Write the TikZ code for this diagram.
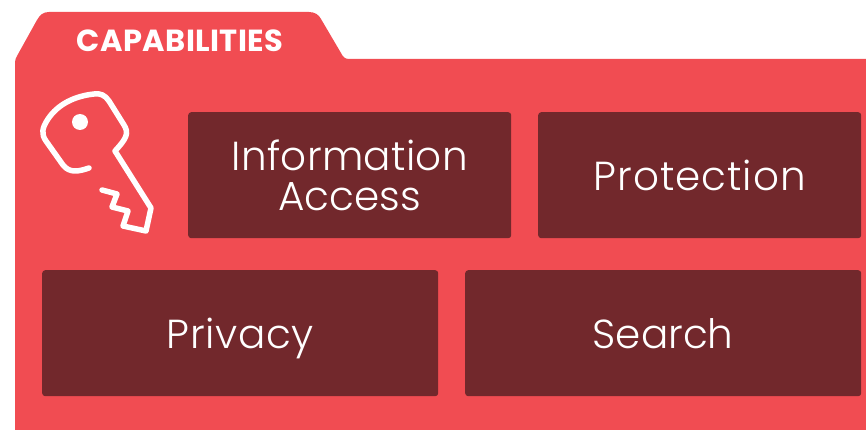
\documentclass[tikz,border=0pt]{standalone}
\usepackage{fontspec}
\setmainfont{Poppins Bold}[LetterSpace=1.5]
\newfontfamily\lightf{Poppins Light}[Ligatures=NoCommon]
\definecolor{folderred}{HTML}{F14C52}
\definecolor{boxred}{HTML}{72282C}
\tikzset{
  panel/.style={fill=boxred,rounded corners=3pt,anchor=north west,inner sep=0pt,align=center,text=white,
    font=\lightf\fontsize{40.5}{40}\selectfont},
  oneline/.style={text height=30pt,text depth=0pt},
  keyline/.style={draw=white,line width=5.5pt,line cap=round,line join=round},
  tabtitle/.style={text=white,font=\fontsize{30.5}{30}\selectfont,inner sep=0pt}
}
\begin{document}
\begin{tikzpicture}[x=1pt,y=-1pt]
\useasboundingbox (0,0) rectangle (866,430);
\fill[folderred] (15,430) -- (15,62) .. controls (15,60) and (16,58) .. (17,56) -- (37,20)
  .. controls (40,15) and (43,12) .. (49,12) -- (309,12) .. controls (315,12) and (319,15) .. (321,19)
  -- (341,53) .. controls (343,57) and (345,59) .. (349,59) -- (866,59) -- (866,430) -- cycle;
\node[tabtitle] (title) at (180,40.5) {CAPABILITIES};
\node[panel,minimum width=323pt,minimum height=126pt] (info) at (188,112) {\addfontfeature{LetterSpace=0.8}Information\\Access};
\node[panel,oneline,minimum width=323pt,minimum height=126pt] (prot) at (538,112) {\addfontfeature{LetterSpace=2.5}Protection};
\node[panel,oneline,minimum width=396pt,minimum height=126pt] (priv) at (42,270) {\addfontfeature{LetterSpace=1.5}Privacy};
\node[panel,oneline,minimum width=396pt,minimum height=126pt] (srch) at (465,270) {Search};
\draw[keyline] (89,168) .. controls (80,171) and (70,174) .. (63,165) -- (46,141)
  .. controls (41,134) and (42,128) .. (48,119) .. controls (58,104) and (75,96) .. (94,94)
  .. controls (100,93) and (105,95) .. (109,101) -- (124,125)
  .. controls (129,133) and (127,138) .. (115,151) -- (151,208) -- (146,231) -- (123,226)
  -- (128,211) -- (112,207) -- (117,194) -- (102,190);
\fill[white] (80,122) circle (8pt);
\end{tikzpicture}
\end{document}
